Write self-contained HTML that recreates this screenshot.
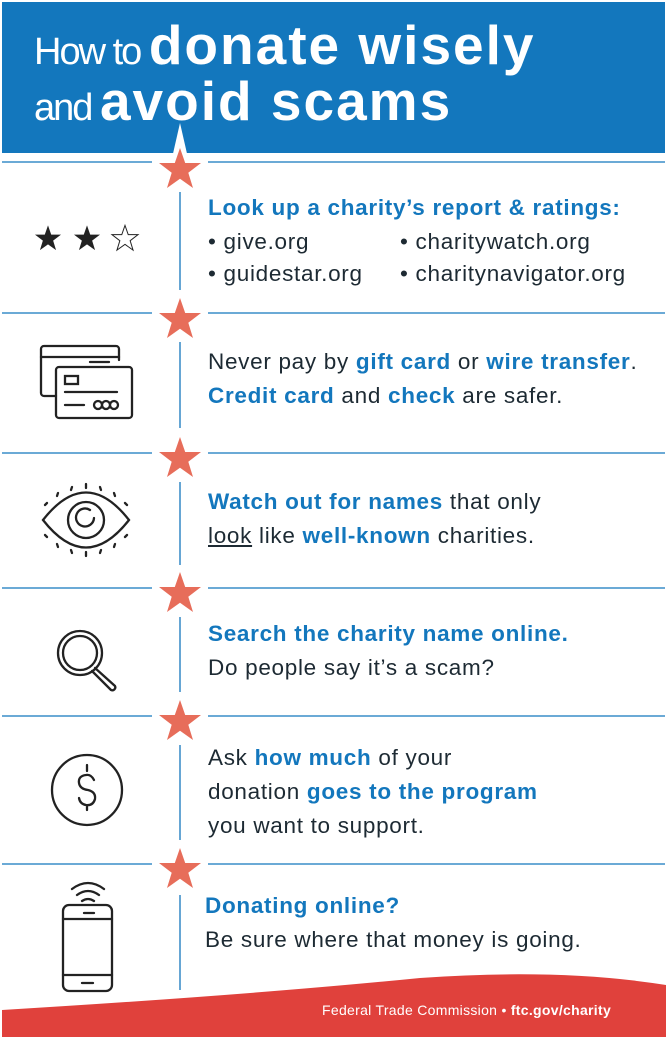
<!DOCTYPE html>
<html><head><meta charset="utf-8"><style>
body{margin:0;width:668px;height:1039px;position:relative;background:#fff;overflow:hidden;font-family:"Liberation Sans",sans-serif;color:#1d2a33}
.t{position:absolute;font-size:22.5px;letter-spacing:0.7px;line-height:34px;white-space:nowrap}
b{color:#1377bd}
.h{position:absolute;color:#fff;white-space:nowrap;left:34px;line-height:56px}
.th{font-size:38px;font-weight:300;letter-spacing:-2px}
.bd{font-weight:bold;font-size:55px;letter-spacing:2px}
</style></head><body>
<svg width="668" height="1039" style="position:absolute;left:0;top:0">
<defs><polygon id="st" points="0,-22 5.2,-7 21,-7 8.3,2.7 13,18 0,8.7 -13,18 -8.3,2.7 -21,-7 -5.2,-7" fill="#e76d5a"/></defs>
<rect x="2" y="2" width="663" height="151" fill="#1377bd"/>
<g stroke="#1377bd" stroke-width="1.3">
<line x1="2" y1="162" x2="152" y2="162"/><line x1="208" y1="162" x2="665" y2="162"/>
<line x1="2" y1="313" x2="152" y2="313"/><line x1="208" y1="313" x2="665" y2="313"/>
<line x1="2" y1="453" x2="152" y2="453"/><line x1="208" y1="453" x2="665" y2="453"/>
<line x1="2" y1="588" x2="152" y2="588"/><line x1="208" y1="588" x2="665" y2="588"/>
<line x1="2" y1="716" x2="152" y2="716"/><line x1="208" y1="716" x2="665" y2="716"/>
<line x1="2" y1="864" x2="152" y2="864"/><line x1="208" y1="864" x2="665" y2="864"/>
<line x1="180" y1="192" x2="180" y2="290"/>
<line x1="180" y1="342" x2="180" y2="428"/>
<line x1="180" y1="482" x2="180" y2="565"/>
<line x1="180" y1="617" x2="180" y2="692"/>
<line x1="180" y1="745" x2="180" y2="840"/>
<line x1="180" y1="895" x2="180" y2="990"/>
</g>
<polygon points="180,123 188,158 172,158" fill="#fff"/>
<polygon transform="translate(180,168) scale(1.15)" points="0,-22 5.2,-7 21,-7 8.3,2.7 13,18 0,8.7 -13,18 -8.3,2.7 -21,-7 -5.2,-7" fill="#fff"/>
<use href="#st" x="180" y="170"/>
<use href="#st" x="180" y="320"/>
<use href="#st" x="180" y="459"/>
<use href="#st" x="180" y="594"/>
<use href="#st" x="180" y="722"/>
<use href="#st" x="180" y="870"/>
<polygon transform="translate(48,239) scale(0.62)" points="0,-22 5.2,-7 21,-7 8.3,2.7 13,18 0,8.7 -13,18 -8.3,2.7 -21,-7 -5.2,-7" fill="#222"/>
<polygon transform="translate(87,239) scale(0.62)" points="0,-22 5.2,-7 21,-7 8.3,2.7 13,18 0,8.7 -13,18 -8.3,2.7 -21,-7 -5.2,-7" fill="#222"/>
<polygon transform="translate(125,239) scale(0.62)" points="0,-22 5.2,-7 21,-7 8.3,2.7 13,18 0,8.7 -13,18 -8.3,2.7 -21,-7 -5.2,-7" fill="none" stroke="#222" stroke-width="1.6"/>
<g fill="none" stroke="#222" stroke-width="2.3" stroke-linecap="round">
<path d="M56,396 h-12 a3,3 0 0 1 -3,-3 v-44 a3,3 0 0 1 3,-3 h72 a3,3 0 0 1 3,3 v11"/>
<line x1="41" y1="357" x2="119" y2="357"/><line x1="90" y1="362" x2="109" y2="362"/>
<rect x="56" y="367" width="76" height="51" rx="3"/>
<rect x="65" y="376" width="13" height="8"/>
<line x1="65" y1="392" x2="117" y2="392"/><line x1="65" y1="405" x2="84" y2="405"/>
<circle cx="98" cy="405" r="4"/><circle cx="106" cy="405" r="4"/><circle cx="114" cy="405" r="4"/>
<path d="M43,520 Q86,465 129,520 Q86,575 43,520 Z"/>
<circle cx="86" cy="520" r="18"/>
<path d="M94,518 a9,9 0 1 1 -4,-8"/>
<circle cx="80" cy="653" r="22"/><circle cx="80" cy="653" r="17"/>
<path d="M95,668 l20,18 a3,3 0 0 1 -4,4 l-19,-19"/>
<circle cx="87" cy="790" r="35"/>
<path d="M94,780 q-3,-6 -8,-5 q-8,1 -7,8 q1,6 9,7 q8,2 7,9 q-2,7 -9,6 q-6,-1 -7,-7 M87,771 v-6 M87,805 v5"/>
<rect x="63" y="905" width="49" height="86" rx="6"/>
<line x1="63" y1="919" x2="112" y2="919"/><line x1="63" y1="975" x2="112" y2="975"/>
<line x1="84" y1="913" x2="94" y2="913"/><line x1="82" y1="983" x2="93" y2="983"/>
<path d="M72,889 q16,-12 32,0 M77,895 q11,-8 22,0 M82,901 q6,-4 12,0"/>
</g>
<g stroke="#222" stroke-width="2.3" stroke-linecap="round">
<line x1="86" y1="484" x2="86" y2="488"/><line x1="86" y1="552" x2="86" y2="556"/>
<line x1="72" y1="487" x2="71" y2="490"/><line x1="100" y1="487" x2="101" y2="490"/>
<line x1="58" y1="493" x2="57" y2="496"/><line x1="114" y1="493" x2="115" y2="496"/>
<line x1="47" y1="503" x2="45" y2="505"/><line x1="125" y1="503" x2="127" y2="505"/>
<line x1="72" y1="553" x2="71" y2="550"/><line x1="100" y1="553" x2="101" y2="550"/>
<line x1="58" y1="547" x2="57" y2="544"/><line x1="114" y1="547" x2="115" y2="544"/>
<line x1="47" y1="537" x2="45" y2="535"/><line x1="125" y1="537" x2="127" y2="535"/>
</g>
<path d="M2,1010 Q250,995 420,978 Q560,968 666,985 V1037 H2 Z" fill="#e0413c"/>
</svg>
<div class="h" style="top:17px"><span class="th">How to </span><span class="bd">donate wisely</span></div>
<div class="h" style="top:73px"><span class="th">and </span><span class="bd">avoid scams</span></div>
<div class="t" style="left:208px;top:191px"><b>Look up a charity’s report &amp; ratings:</b></div>
<div class="t" style="left:208px;top:225px">• give.org</div>
<div class="t" style="left:400px;top:225px">• charitywatch.org</div>
<div class="t" style="left:208px;top:257px">• guidestar.org</div>
<div class="t" style="left:400px;top:257px">• charitynavigator.org</div>
<div class="t" style="left:208px;top:345px">Never pay by <b>gift card</b> or <b>wire transfer</b>.<br><b>Credit card</b> and <b>check</b> are safer.</div>
<div class="t" style="left:208px;top:485px"><b>Watch out for names</b> that only<br><span style="text-decoration:underline">look</span> like <b>well-known</b> charities.</div>
<div class="t" style="left:208px;top:617px"><b>Search the charity name online.</b><br>Do people say it’s a scam?</div>
<div class="t" style="left:208px;top:741px">Ask <b>how much</b> of your<br>donation <b>goes to the program</b><br>you want to support.</div>
<div class="t" style="left:205px;top:889px"><b>Donating online?</b><br>Be sure where that money is going.</div>
<div style="position:absolute;left:322px;top:1002px;color:#fff;font-size:14px;letter-spacing:0.3px;white-space:nowrap">Federal Trade Commission • <span style="font-weight:bold">ftc.gov/charity</span></div>
</body></html>
